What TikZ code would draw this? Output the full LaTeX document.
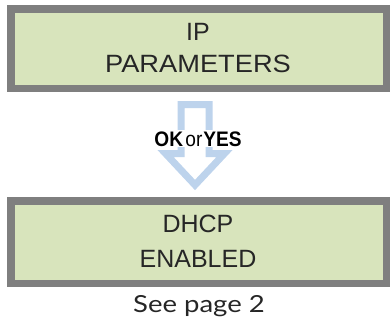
\documentclass[tikz,border=0pt]{standalone}
\usepackage{fontspec}
\setmainfont{Liberation Sans}
\newfontfamily\seefont{Lato}
\definecolor{lcdgreen}{RGB}{216,228,188}
\definecolor{lcdgray}{RGB}{127,127,127}
\definecolor{arrowblue}{RGB}{189,211,236}
\begin{document}
\begin{tikzpicture}[x=1pt,y=-1pt,
  lcd/.style={fill=lcdgreen,draw=lcdgray,line width=7.5pt,inner sep=0pt,minimum width=375.5pt},
  lcdtext/.style={anchor=base,inner sep=0pt,font=\fontsize{25}{30}\selectfont,text=black!85},
  keytext/.style={anchor=base,inner sep=1pt,fill=white,font=\fontsize{21}{24}\selectfont},
  bigarrow/.style={draw=arrowblue,fill=white,line width=7pt,line join=miter}
]
\useasboundingbox (0,0) rectangle (390,327);
\node[lcd,minimum height=79.5pt] (box1) at (198.5,48.5) {};
\node[lcd,minimum height=82.5pt] (box2) at (198.5,242) {};
\draw[bigarrow] (181,104.5) -- (209,104.5) -- (209,153.5) -- (224.5,153.5) -- (195,185)
  -- (165.5,153.5) -- (181,153.5) -- cycle;
\node[lcdtext] (l1) at (198,40) {IP};
\node[lcdtext] (l2) at (198,72) {\scalebox{1.09}[1]{PARAMETERS}};
\node[lcdtext] (l3) at (198,232) {DHCP};
\node[lcdtext] (l4) at (198,267) {ENABLED};
\node[keytext] (key) at (198,146) {\scalebox{0.91}[1]{\textbf{OK}\hspace{2.5pt}or\hspace{1pt}\textbf{YES}}};
\node[anchor=base,inner sep=0pt,font=\seefont\fontsize{23.5}{28}\selectfont,text=black!85] (see) at (199,312) {\scalebox{1.17}[1]{See page 2}};
\end{tikzpicture}
\end{document}
